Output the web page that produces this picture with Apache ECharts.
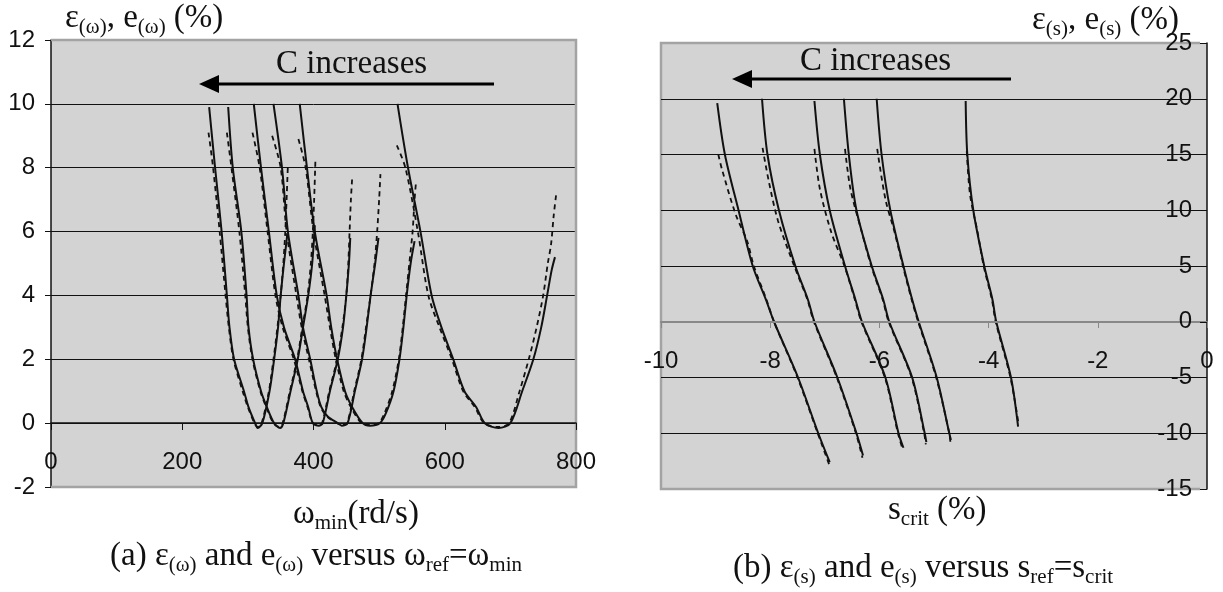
<!DOCTYPE html>
<html>
<head>
<meta charset="utf-8">
<script src="https://cdn.jsdelivr.net/npm/echarts@6/dist/echarts.min.js"></script>
<style>
  html, body { margin: 0; padding: 0; background: #fff; }
  #chart { width: 1223px; height: 592px; }
</style>
</head>
<body>
<div id="chart"></div>
<script>
// (a) error vs omega_min, solid = epsilon, dashed = e
const wSolid1 = [[241, 9.9], [250, 8], [260, 6], [268, 4], [272, 3], [279, 2], [294, 1], [301, 0.5], [311, 0], [315, -0.15], [322, 0], [333, 1], [340, 2], [346, 3], [350, 4], [355, 5], [360, 5.9]]
const wSolid2 = [[270, 9.9], [277, 8], [290, 6], [298, 4], [301, 3], [308, 2], [320, 1], [329, 0.5], [340, 0], [349, -0.15], [354, 0], [365, 1], [376, 2], [384, 3], [392, 4], [398, 5], [402, 6.2]]
const wSolid3 = [[309, 10], [320, 8], [332, 6], [344, 4], [355, 3], [372, 2], [384, 1], [392, 0.5], [399, 0], [408, -0.08], [414, 0], [425, 1], [437, 2], [445, 3], [450, 4], [454, 5], [456, 5.8]]
const wSolid4 = [[339, 10], [352, 8], [361, 6], [377, 4], [384, 3], [395, 2], [405, 1], [412, 0.5], [422, 0.2], [437, 0], [443, -0.08], [452, 0], [463, 1], [474, 2], [481, 3], [487, 4], [494, 5], [499, 5.8]]
const wSolid5 = [[379, 10], [390, 8], [402, 6], [420, 4], [427, 3], [436, 2], [448, 1], [459, 0.5], [475, 0], [486, -0.08], [501, 0], [510, 0.3], [522, 1], [531, 2], [537, 3], [542, 4], [548, 5], [554, 5.7]]
const wSolid6 = [[528, 10], [544, 8], [563, 6], [580, 4], [595, 3], [613, 2], [630, 1], [648, 0.5], [661, 0], [682, -0.15], [700, 0], [718, 1], [735, 2], [747, 3], [756, 4], [763, 4.8], [768, 5.2]]

const wDash1 = [[240, 9.1], [247, 8], [257, 6], [266, 4], [271, 3], [278, 2], [292, 1], [300, 0.5], [310, 0], [315, -0.12], [321, 0], [332, 1], [339, 2], [345, 3], [350, 4], [354, 5], [357, 6], [359, 7], [361, 8.1]]
const wDash2 = [[268, 9.1], [275, 8], [287, 6], [296, 4], [300, 3], [307, 2], [319, 1], [328, 0.5], [339, 0], [348, -0.12], [353, 0], [364, 1], [375, 2], [383, 3], [391, 4], [396, 5], [399, 6], [401, 7], [403, 8.3]]
const wDash3 = [[307, 9.1], [318, 8], [330, 6], [342, 4], [353, 3], [370, 2], [383, 1], [391, 0.5], [399, 0], [407, -0.05], [413, 0], [424, 1], [436, 2], [444, 3], [450, 4], [453, 5], [455, 6], [457, 7], [459, 7.7]]
const wDash4 = [[337, 9.0], [350, 8], [359, 6], [374, 4], [382, 3], [393, 2], [404, 1], [411, 0.5], [421, 0.2], [436, 0], [442, -0.05], [451, 0], [462, 1], [473, 2], [480, 3], [487, 4], [493, 5], [497, 6], [500, 7], [502, 7.8]]
const wDash5 = [[377, 8.9], [388, 8], [400, 6], [417, 4], [425, 3], [434, 2], [446, 1], [457, 0.5], [473, 0], [484, -0.05], [499, 0], [508, 0.3], [520, 1], [530, 2], [536, 3], [541, 4], [546, 5], [551, 6], [554, 7], [556, 7.5]]
const wDash6 = [[527, 8.7], [540, 8], [559, 6], [575, 4], [592, 3], [611, 2], [628, 1], [646, 0.5], [660, 0], [681, -0.12], [698, 0], [714, 1], [728, 2], [740, 3], [750, 4], [757, 5], [762, 5.6], [766, 6.5], [770, 7.2]]

// (b) error vs s_crit
const sSolidA = [[-8.97, 19.6], [-8.83, 15], [-8.58, 10], [-8.32, 5], [-8.08, 2], [-7.93, 0], [-7.49, -5], [-7.12, -10], [-6.91, -12.6]]
const sSolidB = [[-8.15, 20], [-8.05, 15], [-7.84, 10], [-7.54, 5], [-7.31, 2], [-7.19, 0], [-6.77, -5], [-6.42, -10], [-6.30, -12]]
const sSolidC = [[-7.19, 19.8], [-7.09, 15], [-6.91, 10], [-6.63, 5], [-6.44, 2], [-6.32, 0], [-5.89, -5], [-5.65, -10], [-5.56, -11.3]]
const sSolidD = [[-6.65, 20], [-6.56, 15], [-6.42, 10], [-6.14, 5], [-5.93, 2], [-5.82, 0], [-5.40, -5], [-5.17, -10], [-5.14, -10.8]]
const sSolidE = [[-6.05, 20], [-5.96, 15], [-5.80, 10], [-5.56, 5], [-5.40, 2], [-5.28, 0], [-4.95, -5], [-4.72, -10], [-4.69, -10.6]]
const sSolidF = [[-4.42, 19.8], [-4.39, 15], [-4.28, 10], [-4.08, 5], [-3.93, 2], [-3.86, 0], [-3.59, -5], [-3.46, -9.4]]

const sDashA = [[-8.95, 15], [-8.88, 13.6], [-8.63, 9.6], [-8.42, 7.2], [-8.30, 5], [-8.07, 2], [-7.93, 0], [-7.50, -5], [-7.13, -10], [-6.92, -12.8]]
const sDashB = [[-8.14, 15.6], [-8.03, 12.7], [-7.86, 9.1], [-7.56, 5], [-7.32, 2], [-7.20, 0], [-6.78, -5], [-6.43, -10], [-6.31, -12.2]]
const sDashC = [[-7.19, 15.5], [-7.09, 11.9], [-6.88, 8], [-6.64, 5], [-6.45, 2], [-6.33, 0], [-5.90, -5], [-5.66, -10], [-5.57, -11.5]]
const sDashD = [[-6.63, 15.5], [-6.53, 11.9], [-6.32, 8], [-6.15, 5], [-5.94, 2], [-5.83, 0], [-5.41, -5], [-5.18, -10], [-5.15, -11]]
const sDashE = [[-6.04, 15.5], [-5.89, 11], [-5.72, 8], [-5.57, 5], [-5.41, 2], [-5.29, 0], [-4.96, -5], [-4.72, -10], [-4.70, -10.8]]
const sDashF = [[-4.40, 15.3], [-4.34, 11.4], [-4.20, 8], [-4.09, 5], [-3.94, 2], [-3.87, 0], [-3.60, -5], [-3.45, -9.2]]

const SANS = "'Liberation Sans', Arial, sans-serif"
const SERIF = "'Liberation Serif', 'DejaVu Serif', serif"
const BG = '#d3d3d3'
const FRAME = '#a3a3a3'

const richSub = {
  m: { fontFamily: SERIF, fontSize: 33, lineHeight: 40, color: '#111' },
  s: { fontFamily: SERIF, fontSize: 21, lineHeight: 21, color: '#111', verticalAlign: 'bottom' }
}

function label (x, y, text) {
  return {
    type: 'text', x: x, y: y, z: 100,
    style: { text: text, rich: richSub, verticalAlign: 'middle', align: 'left', fill: '#111' }
  }
}

function curve (data, idx, dashed) {
  return {
    type: 'line',
    xAxisIndex: idx,
    yAxisIndex: idx,
    data: data,
    showSymbol: false,
    symbol: 'none',
    smooth: 0.3,
    silent: true,
    lineStyle: { color: '#111', width: dashed ? 1.8 : 2, type: dashed ? [5, 4] : 'solid' }
  }
}

const chart = echarts.init(document.getElementById('chart'))

const series = []
;[wSolid1, wSolid2, wSolid3, wSolid4, wSolid5, wSolid6].forEach(d => series.push(curve(d, 0, false)))
;[wDash1, wDash2, wDash3, wDash4, wDash5, wDash6].forEach(d => series.push(curve(d, 0, true)))
;[sSolidA, sSolidB, sSolidC, sSolidD, sSolidE, sSolidF].forEach(d => series.push(curve(d, 1, false)))
;[sDashA, sDashB, sDashC, sDashD, sDashE, sDashF].forEach(d => series.push(curve(d, 1, true)))

chart.setOption({
  animation: false,
  backgroundColor: '#fff',
  grid: [
    { left: 51, top: 40, width: 525, height: 447, show: true, backgroundColor: BG, borderWidth: 0, outerBoundsMode: 'none' },
    { left: 661, top: 43, width: 546, height: 446, show: true, backgroundColor: BG, borderWidth: 0, outerBoundsMode: 'none' }
  ],
  xAxis: [
    {
      // the axis sits on y = 0, 64px above the grid bottom
      type: 'value', gridIndex: 0, min: 0, max: 800, interval: 200, offset: -64, z: 60,
      axisLine: { onZero: false, lineStyle: { color: '#111', width: 1.5 } },
      axisTick: { show: true, length: 7, lineStyle: { color: '#111' } },
      axisLabel: { margin: 27, fontFamily: SANS, fontSize: 24, color: '#111', showMinLabel: true, showMaxLabel: true },
      splitLine: { show: false }
    },
    {
      type: 'value', gridIndex: 1, min: -10, max: 0, interval: 2, offset: -167, z: 60,
      axisLine: { onZero: false, lineStyle: { color: '#888', width: 2 } },
      axisTick: { show: true, length: 6, lineStyle: { color: '#888' } },
      axisLabel: { margin: 27, fontFamily: SANS, fontSize: 24, color: '#111', showMinLabel: true, showMaxLabel: true },
      splitLine: { show: false }
    }
  ],
  yAxis: [
    {
      type: 'value', gridIndex: 0, min: -2, max: 12, interval: 2,
      axisLine: { show: true, onZero: false, lineStyle: { color: '#111', width: 1.5 } },
      axisTick: { show: true, length: 6, lineStyle: { color: '#111' } },
      axisLabel: { margin: 16, fontFamily: SANS, fontSize: 24, color: '#111' },
      splitLine: { show: true, lineStyle: { color: '#111', width: 1 } }
    },
    {
      type: 'value', gridIndex: 1, position: 'right', min: -15, max: 25, interval: 5, z: 60,
      axisLine: { show: true, onZero: false, lineStyle: { color: '#111', width: 1.5 } },
      axisTick: { show: true, inside: true, length: 7, lineStyle: { color: '#111' } },
      axisLabel: { inside: true, margin: 15, fontFamily: SANS, fontSize: 24, color: '#111' },
      splitLine: {
        show: true,
        lineStyle: { color: [FRAME, '#111', '#111', '#888', '#111', '#111', '#111', '#111', FRAME], width: 1 }
      }
    }
  ],
  series: series,
  graphic: [
    // plot frames
    { type: 'polyline', z: 50, shape: { points: [[51, 40], [576, 40], [576, 487], [51, 487]] }, style: { stroke: FRAME, lineWidth: 2.5, fill: null } },
    { type: 'polyline', z: 50, shape: { points: [[1200, 43], [661, 43], [661, 489], [1200, 489]] }, style: { stroke: FRAME, lineWidth: 2.5, fill: null } },
    // arrows
    { type: 'line', z: 60, shape: { x1: 214, y1: 84, x2: 494, y2: 84 }, style: { stroke: '#000', lineWidth: 3 } },
    { type: 'polygon', z: 60, shape: { points: [[199, 84], [219, 75], [219, 93]] }, style: { fill: '#000' } },
    { type: 'line', z: 60, shape: { x1: 748, y1: 79, x2: 1011, y2: 79 }, style: { stroke: '#000', lineWidth: 3 } },
    { type: 'polygon', z: 60, shape: { points: [[732, 79], [752, 70], [752, 88]] }, style: { fill: '#000' } },
    label(276, 64, '{m|C increases}'),
    label(800, 61, '{m|C increases}'),
    // axis titles
    label(65, 18, '{m|ε}{s|(ω)}{m|, e}{s|(ω)}{m| (%)}'),
    label(1032, 20, '{m|ε}{s|(s)}{m|, e}{s|(s)}{m| (%)}'),
    label(293, 514, '{m|ω}{s|min}{m|(rd/s)}'),
    label(888, 510, '{m|s}{s|crit}{m| (%)}'),
    // captions
    label(110, 556, '{m|(a) ε}{s|(ω)}{m| and e}{s|(ω)}{m| versus ω}{s|ref}{m|=ω}{s|min}'),
    label(733, 568, '{m|(b) ε}{s|(s)}{m| and e}{s|(s)}{m| versus s}{s|ref}{m|=s}{s|crit}')
  ]
})
</script>
</body>
</html>
